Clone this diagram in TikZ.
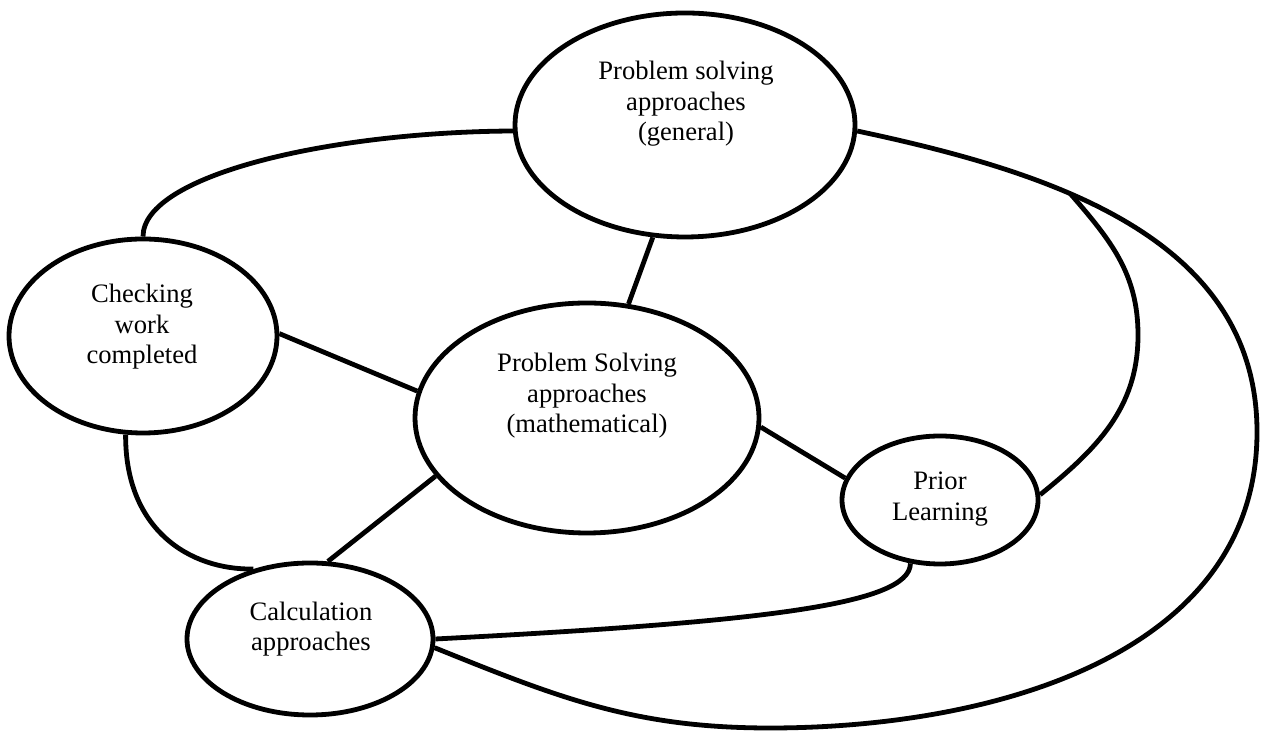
\documentclass[tikz,border=0pt]{standalone}
\usepackage{fontspec}
\setmainfont{Liberation Serif}
\usetikzlibrary{shapes.geometric}
\begin{document}
\begin{tikzpicture}[x=0.5pt,y=0.5pt,
  bub/.style={ellipse, draw, line width=2.4pt, inner sep=0pt},
  lbl/.style={align=center, inner sep=0pt, font=\fontsize{13.3}{15.3}\selectfont},
  link/.style={line width=2.4pt}]
\useasboundingbox (0,0) rectangle (1261,731);
% ellipses
\node[bub, minimum width=170pt, minimum height=112pt] (gen) at (685,606) {};
\node[bub, minimum width=172pt, minimum height=115pt] (mid) at (587,313) {};
\node[bub, minimum width=134pt, minimum height=97pt] (check) at (143,395) {};
\node[bub, minimum width=98pt, minimum height=64pt] (prior) at (940,231) {};
\node[bub, minimum width=123pt, minimum height=76pt] (calc) at (310,92) {};
% labels
\node[lbl] (gent) at (686,627) {Problem solving\\approaches\\(general)};
\node[lbl] (midt) at (587,335) {Problem Solving\\approaches\\(mathematical)};
\node[lbl] (checkt) at (142,404) {Checking\\work\\completed};
\node[lbl] (priort) at (940,232) {Prior\\Learning};
\node[lbl] (calct) at (311,102) {Calculation\\approaches};
% waypoints
\coordinate (loopE) at (1257,299);
\coordinate (loopS) at (770,3);
\coordinate (brE) at (1138,396);
% straight connectors
\draw[link] (gen.-106) -- (mid.70);
\draw[link] (check.1) -- (mid.171);
\draw[link] (mid.-3) -- (prior.167);
\draw[link] (mid.201) -- (calc.77);
% curved connectors
\draw[link] (gen.182) .. controls (330,599) and (143,556) .. (check.90);
\draw[link] (check.-100) .. controls (125,201) and (190,161) .. (calc.129);
\draw[link] (prior.-115) .. controls (910,126) and (760,109) .. (calc.0);
\draw[link] (gen.-2) to[out=-12,in=90] coordinate[pos=0.38] (br) (loopE)
  to[out=-90,in=0] (loopS) to[out=180,in=-22] (calc.-4);
\draw[link] (br) to[out=-49,in=90] (brE) to[out=-90,in=39] (prior.3);
\end{tikzpicture}
\end{document}
